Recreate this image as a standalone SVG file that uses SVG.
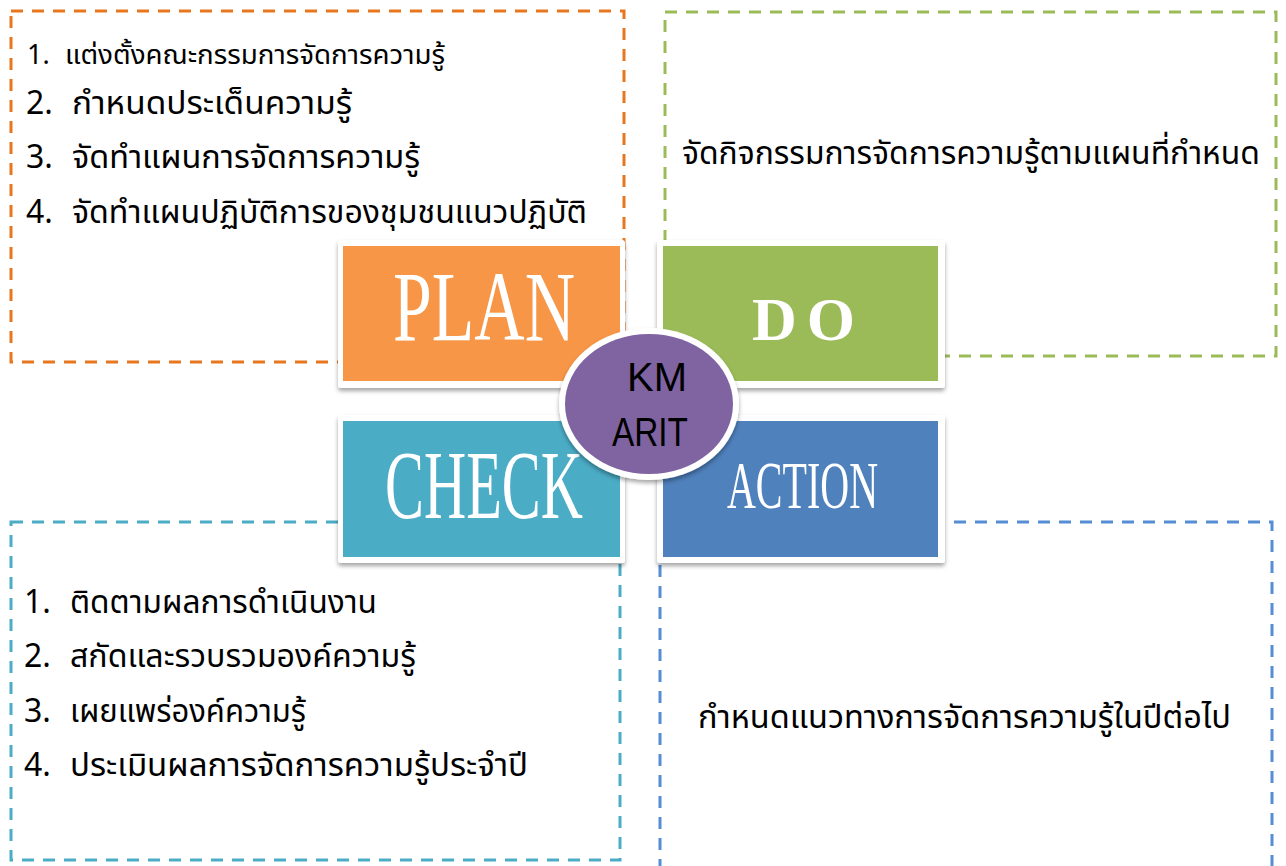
<svg xmlns="http://www.w3.org/2000/svg" width="1286" height="866" viewBox="0 0 1286 866">
<style>
.box{fill:none;stroke-width:3;stroke-dasharray:12 9}
.th{font-family:"Noto Sans Thai","Noto Sans Thai UI","Loma","Garuda","Norasi","Noto Sans","DejaVu Sans",sans-serif;fill:#000;font-size:32px}
.big{font-family:"Liberation Serif",serif;fill:#fff}
.km{font-family:"Liberation Sans Narrow","Liberation Sans",sans-serif;font-size:40px;fill:#000}
.frame{fill:#fff;filter:url(#sh)}
</style>
<defs>
<filter id="sh" x="-10%" y="-10%" width="120%" height="130%">
<feDropShadow dx="0" dy="3" stdDeviation="2" flood-color="#000" flood-opacity="0.35"/>
</filter>
</defs>
<rect x="11" y="11" width="613" height="351" class="box" stroke="#E8761E"/>
<rect x="665" y="12" width="611" height="344" class="box" stroke="#9BBB59"/>
<rect x="11" y="522" width="609" height="338" class="box" stroke="#4BACC6"/>
<rect x="660" y="522" width="612" height="350" class="box" stroke="#558ED5"/>
<g id="plan-list" class="th">
<text x="27" y="64" font-size="27">1.</text>
<text x="65" y="64" font-size="27" textLength="380" lengthAdjust="spacingAndGlyphs">แต่งตั้งคณะกรรมการจัดการความรู้</text>
<text x="26" y="114">2.</text>
<text x="72" y="114" textLength="280" lengthAdjust="spacingAndGlyphs">กำหนดประเด็นความรู้</text>
<text x="26" y="168">3.</text>
<text x="72" y="168" textLength="348" lengthAdjust="spacingAndGlyphs">จัดทำแผนการจัดการความรู้</text>
<text x="26" y="223">4.</text>
<text x="72" y="223" textLength="515" lengthAdjust="spacingAndGlyphs">จัดทำแผนปฏิบัติการของชุมชนแนวปฏิบัติ</text>
</g>
<g id="do-text" class="th">
<text x="682" y="164" textLength="578" lengthAdjust="spacingAndGlyphs">จัดกิจกรรมการจัดการความรู้ตามแผนที่กำหนด</text>
</g>
<g id="check-list" class="th">
<text x="24" y="613">1.</text>
<text x="70" y="613" textLength="307" lengthAdjust="spacingAndGlyphs">ติดตามผลการดำเนินงาน</text>
<text x="24" y="667">2.</text>
<text x="70" y="667" textLength="346" lengthAdjust="spacingAndGlyphs">สกัดและรวบรวมองค์ความรู้</text>
<text x="24" y="722">3.</text>
<text x="70" y="722" textLength="236" lengthAdjust="spacingAndGlyphs">เผยแพร่องค์ความรู้</text>
<text x="24" y="776">4.</text>
<text x="70" y="776" textLength="458" lengthAdjust="spacingAndGlyphs">ประเมินผลการจัดการความรู้ประจำปี</text>
</g>
<g id="action-text" class="th">
<text x="698" y="728" textLength="533" lengthAdjust="spacingAndGlyphs">กำหนดแนวทางการจัดการความรู้ในปีต่อไป</text>
</g>
<g id="plan">
<rect x="338" y="240" width="287" height="148" rx="3" class="frame"/>
<rect x="343" y="246" width="277" height="135" fill="#F79646"/>
<text x="393" y="340" class="big" font-size="100" textLength="182" lengthAdjust="spacingAndGlyphs">PLAN</text>
</g>
<g id="do">
<rect x="657" y="240" width="288" height="148" rx="3" class="frame"/>
<rect x="663" y="246" width="275" height="135" fill="#9BBB59"/>
<text x="752" y="340" class="big" font-size="62" font-weight="bold" textLength="103" lengthAdjust="spacing">DO</text>
</g>
<g id="check">
<rect x="338" y="415" width="287" height="148" rx="3" class="frame"/>
<rect x="343" y="421" width="277" height="136" fill="#4BACC6"/>
<text x="385" y="518" class="big" font-size="98" textLength="198" lengthAdjust="spacingAndGlyphs">CHECK</text>
</g>
<g id="action">
<rect x="657" y="415" width="288" height="148" rx="3" class="frame"/>
<rect x="663" y="421" width="275" height="136" fill="#4F81BD"/>
<text x="727" y="508" class="big" font-size="68" textLength="151" lengthAdjust="spacingAndGlyphs">ACTION</text>
</g>
<g id="km">
<ellipse cx="649" cy="404" rx="90" ry="76" fill="#fff" filter="url(#sh)"/>
<ellipse cx="649" cy="404" rx="84" ry="70" fill="#8064A2"/>
<text x="657" y="391" class="km" text-anchor="middle" textLength="60" lengthAdjust="spacingAndGlyphs">KM</text>
<text x="650" y="446" class="km" text-anchor="middle" textLength="76" lengthAdjust="spacingAndGlyphs">ARIT</text>
</g>
</svg>
